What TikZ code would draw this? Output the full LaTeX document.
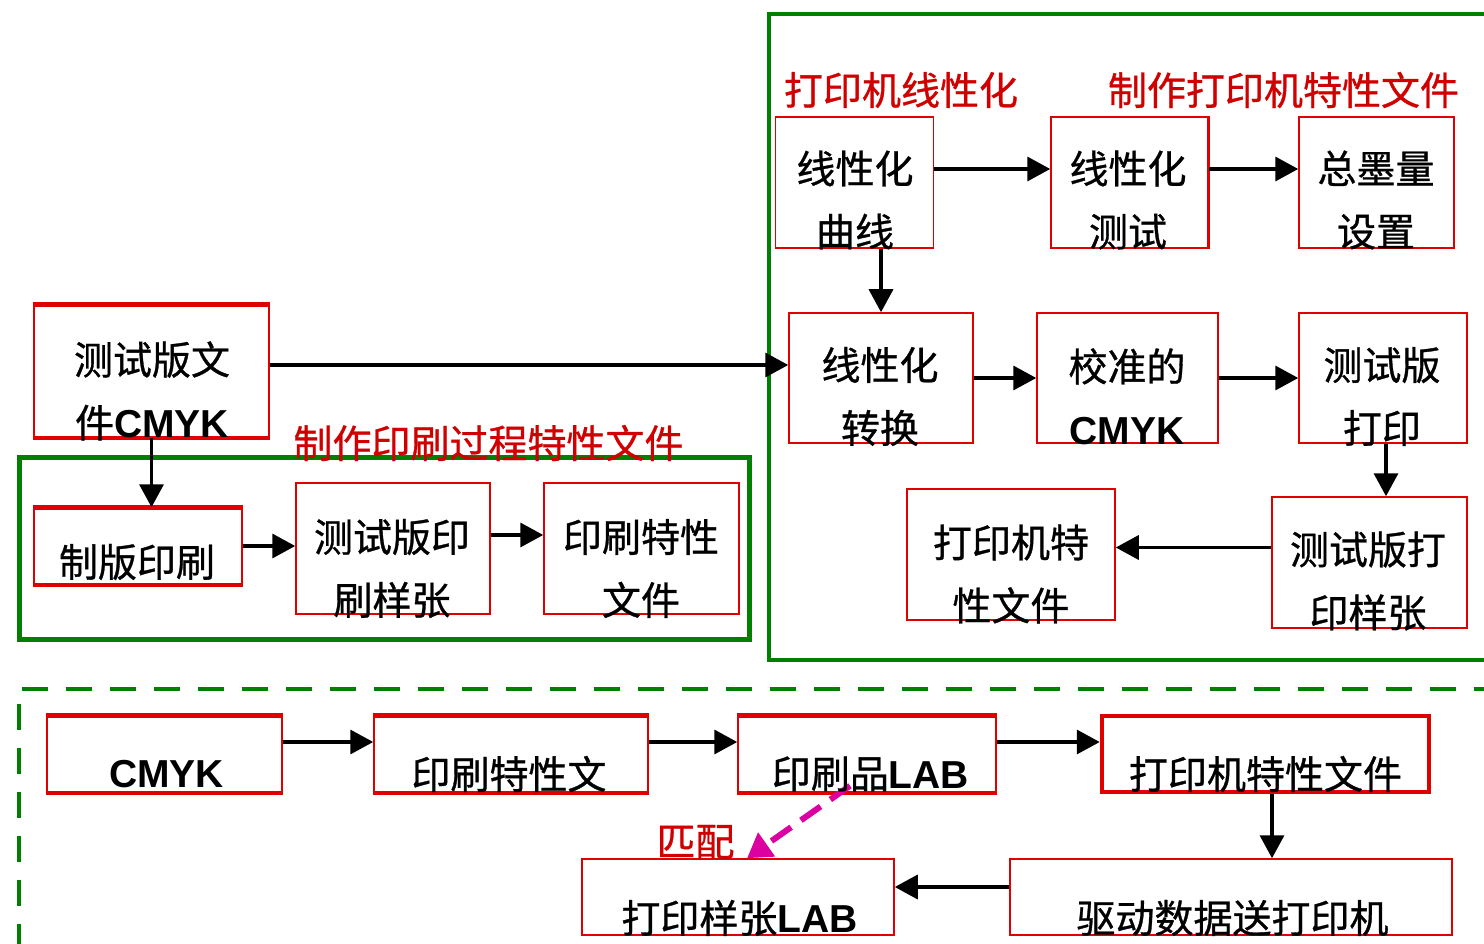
\documentclass[tikz,border=0pt]{standalone}
\usepackage{fontspec}
\setmainfont{Noto Sans CJK SC}[FakeBold=0.8]
\newfontfamily\latf{Liberation Sans}
\usetikzlibrary{arrows.meta}
\definecolor{bred}{RGB}{225,0,0}
\definecolor{tred}{RGB}{208,0,0}
\definecolor{gr}{RGB}{0,128,0}
\definecolor{mag}{RGB}{220,0,160}
\newcommand{\latb}[1]{{\latf\bfseries #1}}
\tikzset{
 rbox/.style={draw=bred, line width=1.5pt, inner sep=0pt},
 txt/.style={font=\fontsize{39}{63}\selectfont, align=center, inner sep=0pt, text=black},
 rlab/.style={font=\fontsize{39}{47}\selectfont, inner sep=0pt, text=tred},
 arr/.style={line width=3.5pt, draw=black, -{Triangle[length=23pt,width=24pt]}},
 thk/.style={draw=bred, line width=4.5pt},
 gbox/.style={draw=gr, line width=4.5pt},
 gdash/.style={draw=gr, line width=4pt, dash pattern=on 26pt off 18pt},
 magarr/.style={draw=mag, line width=6pt, dash pattern=on 24pt off 12pt, -{Triangle[length=24pt,width=28pt]}},
}
\begin{document}
\begin{tikzpicture}[x=1pt,y=-1pt]
\useasboundingbox (0,0) rectangle (1484,944);
\clip (0,0) rectangle (1484,944);
% green frames
\draw[gbox] (1500,14) -- (769,14) -- (769,660) -- (1500,660);
\draw[gbox, line width=5pt] (19,457) rectangle (749,639);
\draw[gdash] (1500,689) -- (19,689) -- (19,950);
% left group boxes
\node[rbox, minimum width=235pt, minimum height=132pt] (L0) at (151.5,371) {};
\draw[thk] (L0.north west) -- (L0.north east) (L0.south west) -- (L0.south east);
\node[rbox, minimum width=208pt, minimum height=76pt] (L1) at (138,546) {};
\draw[thk] (L1.north west) -- (L1.north east) (L1.south west) -- (L1.south east);
\node[rbox, minimum width=194pt, minimum height=131pt] (L2) at (393,548.5) {};
\node[rbox, minimum width=195pt, minimum height=131pt] (L3) at (641.5,548.5) {};
% right group boxes
\node[rbox, minimum width=158pt, minimum height=131pt] (A1) at (854.5,182.5) {};
\node[rbox, minimum width=157pt, minimum height=131pt] (A2) at (1129.5,182.5) {};
\draw[draw=bred, line width=3pt] (A2.north east) -- (A2.south east);
\node[rbox, minimum width=155pt, minimum height=131pt] (A3) at (1376.5,182.5) {};
\node[rbox, minimum width=184pt, minimum height=130pt] (B1) at (881,378) {};
\node[rbox, minimum width=181pt, minimum height=130pt] (B2) at (1127.5,378) {};
\node[rbox, minimum width=168pt, minimum height=130pt] (B3) at (1383,378) {};
\node[rbox, minimum width=208pt, minimum height=131pt] (C1) at (1011,554.5) {};
\node[rbox, minimum width=195pt, minimum height=131pt] (C2) at (1369.5,562.5) {};
% bottom group boxes
\node[rbox, minimum width=235pt, minimum height=76pt] (D1) at (164.5,754) {};
\node[rbox, minimum width=274pt, minimum height=76pt] (D2) at (511,754) {};
\node[rbox, minimum width=258pt, minimum height=76pt] (D3) at (867,754) {};
\foreach \n in {D1,D2,D3}{\draw[thk] (\n.north west) -- (\n.north east) (\n.south west) -- (\n.south east);}
\node[rbox, line width=4.5pt, minimum width=327pt, minimum height=76pt] (D4) at (1265.5,754) {};
\node[rbox, minimum width=312pt, minimum height=76pt] (E1) at (738,897) {};
\node[rbox, minimum width=442pt, minimum height=76pt] (E2) at (1231,897) {};
% arrows
\draw[arr] ([yshift=6pt]L0.east) -- ([yshift=6pt]L0.east -| B1.west);
\draw[arr] (L0.south) -- (L0.south |- L1.north);
\draw[arr] (L1.east) -- (L1.east -| L2.west);
\draw[arr] ([yshift=13.5pt]L2.east) -- ([yshift=13.5pt]L2.east -| L3.west);
\draw[arr] ([yshift=13.5pt]A1.east) -- ([yshift=13.5pt]A1.east -| A2.west);
\draw[arr] ([yshift=13.5pt]A2.east) -- ([yshift=13.5pt]A2.east -| A3.west);
\draw[arr] (B1.north |- A1.south) -- (B1.north);
\draw[arr] (B1.east) -- (B2.west);
\draw[arr] (B2.east) -- (B3.west);
\draw[arr] ([xshift=3pt]B3.south) -- ([xshift=3pt]B3.south |- C2.north);
\draw[arr] ([yshift=15pt]C2.west) -- ([yshift=15pt]C2.west -| C1.east);
\draw[arr] ([yshift=12pt]D1.east) -- ([yshift=12pt]D1.east -| D2.west);
\draw[arr] ([yshift=12pt]D2.east) -- ([yshift=12pt]D2.east -| D3.west);
\draw[arr] ([yshift=12pt]D3.east) -- ([yshift=12pt]D3.east -| D4.west);
\draw[arr] ([xshift=6.5pt]D4.south) -- ([xshift=6.5pt]D4.south |- E2.north);
\draw[arr] ([yshift=10pt]E2.west) -- ([yshift=10pt]E2.west -| E1.east);
\draw[magarr] ([xshift=-17pt,yshift=7pt]D3.south) -- ([xshift=9pt]E1.north);
% texts
\node[txt] (tL0) at (152,391) {测试版文\\件\latb{CMYK}};
\node[txt] (tL1) at (137,562) {制版印刷};
\node[txt] (tL2) at (392,568.5) {测试版印\\刷样张};
\node[txt] (tL3) at (641,568.5) {印刷特性\\文件};
\node[rlab] (r1) at (488.5,443) {制作印刷过程特性文件};
\node[rlab] (r2) at (901,90) {打印机线性化};
\node[rlab] (r3) at (1283.5,90) {制作打印机特性文件};
\node[txt] (tA1) at (855,200) {线性化\\曲线};
\node[txt] (tA2) at (1128,200) {线性化\\测试};
\node[txt] (tA3) at (1376,200) {总墨量\\设置};
\node[txt] (tB1) at (880,396.5) {线性化\\转换};
\node[txt] (tB2) at (1127,396.5) {校准的\\\latb{CMYK}};
\node[txt] (tB3) at (1382,396.5) {测试版\\打印};
\node[txt] (tC1) at (1011,574) {打印机特\\性文件};
\node[txt] (tC2) at (1368,581) {测试版打\\印样张};
\node[txt] (tD1) at (166.5,774) {\latb{CMYK}};
\node[txt] (tD2) at (509,774) {印刷特性文};
\node[txt] (tD3) at (870.5,774) {印刷品\latb{LAB}};
\node[txt] (tD4) at (1265.5,774) {打印机特性文件};
\node[txt] (tE1) at (739.5,918) {打印样张\latb{LAB}};
\node[txt] (tE2) at (1232.5,918) {驱动数据送打印机};
\node[rlab] (r4) at (695.5,842) {匹配};
\end{tikzpicture}
\end{document}
